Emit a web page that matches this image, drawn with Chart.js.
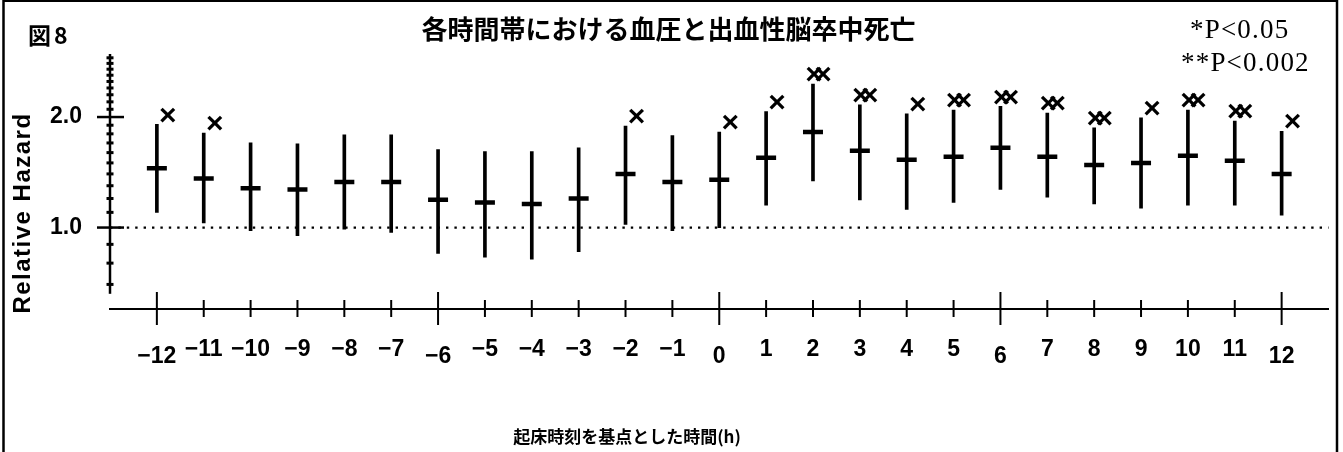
<!DOCTYPE html>
<html>
<head>
<meta charset="utf-8">
<script src="https://cdn.jsdelivr.net/npm/chart.js@4"></script>
<style>
  html, body { margin: 0; padding: 0; background: #fff; }
  #c { display: block; }
</style>
</head>
<body>
<canvas id="c" width="1343" height="452"></canvas>
<script>
// Hours relative to wake-up time
const hours = ['−12','−11','−10','−9','−8','−7','−6','−5','−4','−3','−2','−1',
               '0','1','2','3','4','5','6','7','8','9','10','11','12'];
const majorHours = ['−12','−6','0','6','12'];

// Relative hazard of haemorrhagic stroke death with 95% CI
const meanRH  = [1.45,1.36,1.28,1.27,1.33,1.33,1.19,1.17,1.16,1.20,1.40,1.33,
                 1.35,1.55,1.82,1.62,1.53,1.56,1.65,1.56,1.48,1.50,1.57,1.52,1.40];
const lowerCI = [1.10,1.03,0.98,0.95,0.99,0.97,0.85,0.83,0.82,0.86,1.02,0.98,
                 1.00,1.15,1.34,1.19,1.12,1.17,1.27,1.21,1.16,1.13,1.15,1.15,1.08];
const upperCI = [1.91,1.81,1.70,1.69,1.79,1.79,1.63,1.61,1.61,1.65,1.89,1.78,
                 1.82,2.07,2.46,2.16,2.04,2.09,2.14,2.05,1.87,1.99,2.09,1.95,1.83];
const signif  = ['*','*','','','','','','','','','*','',
                 '*','*','**','**','*','**','**','**','**','*','**','**','*'];

// Y axis: labelled ticks, minor ticks, visible axis extent
const yTickValues = [1, 2];
const yMinorTicks = [0.7,0.8,0.9,1.1,1.2,1.3,1.4,1.5,1.6,1.7,1.8,1.9,
                     2.1,2.2,2.3,2.4,2.5,2.6,2.7,2.8,2.9];
const yMin = 0.604, yMax = 2.97, yAxisFloor = 0.66;
const refLevel = 1.0;

// Blank slots at both ends give a one-step margin on each side
const labels = [''].concat(hours, ['']);
const pad = arr => [null].concat(arr, [null]);

const ciData = pad(lowerCI.map((lo, i) => [lo, upperCI[i]]));
const meanData = pad(meanRH);
const refData = labels.map(() => refLevel);

const decor = {
  id: 'decor',
  beforeDraw(chart) {
    const ctx = chart.ctx;
    ctx.save();
    ctx.fillStyle = '#fff';
    ctx.fillRect(0, 0, chart.width, chart.height);
    ctx.restore();
  },
  afterDraw(chart) {
    const { ctx, chartArea: a, scales: { x, y } } = chart;
    const seg = (x1, y1, x2, y2) => { ctx.beginPath(); ctx.moveTo(x1, y1); ctx.lineTo(x2, y2); ctx.stroke(); };
    ctx.save();
    ctx.strokeStyle = '#000';
    ctx.fillStyle = '#000';
    ctx.lineCap = 'butt';

    // Y axis line with crossing tick marks
    ctx.lineWidth = 2.5;
    seg(a.left, y.getPixelForValue(yAxisFloor), a.left, a.top);
    ctx.lineWidth = 3;
    yMinorTicks.forEach(v => { const py = y.getPixelForValue(v); seg(a.left - 3.5, py, a.left + 3.5, py); });
    ctx.lineWidth = 2.5;
    yTickValues.forEach(v => { const py = y.getPixelForValue(v); seg(a.left - 13, py, a.left + 14, py); });

    // X axis crossing tick marks and labels
    ctx.font = 'bold 23px "Liberation Sans", Arial, sans-serif';
    ctx.textAlign = 'center';
    ctx.textBaseline = 'middle';
    hours.forEach((h, i) => {
      const px = x.getPixelForValue(i + 1);
      const major = majorHours.includes(h);
      ctx.lineWidth = 2;
      seg(px, a.bottom - (major ? 17 : 9), px, a.bottom + (major ? 16 : 8));
      ctx.fillText(h, px, a.bottom + (major ? 48 : 41));
    });

    // Significance marks above the upper confidence limit
    ctx.font = 'bold 30px "Liberation Sans", Arial, sans-serif';
    signif.forEach((s, i) => {
      if (!s) return;
      const px = x.getPixelForValue(i + 1);
      const py = y.getPixelForValue(upperCI[i]) - 8;
      if (s === '*') {
        ctx.fillText('×', px + 11, py);
      } else {
        ctx.fillText('×', px + 1, py);
        ctx.fillText('×', px + 10, py);
      }
    });

    // Figure number
    ctx.textAlign = 'left';
    ctx.font = 'bold 23px "Noto Sans CJK JP", sans-serif';
    ctx.letterSpacing = '3px';
    ctx.fillText('図8', 28, 35);

    // Significance legend
    ctx.font = '27px "Liberation Serif", "Times New Roman", serif';
    ctx.letterSpacing = '1.2px';
    ctx.fillText('*P<0.05', 1190, 31);
    ctx.fillText('**P<0.002', 1181, 64);

    // Axis titles
    ctx.letterSpacing = '1.5px';
    ctx.font = 'bold 24px "Liberation Sans", Arial, sans-serif';
    ctx.save();
    ctx.translate(23, 213);
    ctx.rotate(-Math.PI / 2);
    ctx.textAlign = 'center';
    ctx.fillText('Relative Hazard', 0, 0);
    ctx.restore();

    ctx.letterSpacing = '0px';
    ctx.textAlign = 'center';
    ctx.font = 'bold 17px "Noto Sans CJK JP", sans-serif';
    ctx.fillText('起床時刻を基点とした時間(h)', 627, 437);

    // Figure frame
    ctx.lineWidth = 2.5;
    seg(3.5, 0, 3.5, chart.height);
    seg(1337, 0, 1337, chart.height);
    ctx.lineWidth = 2;
    seg(3.5, 1, 1337, 1);
    ctx.restore();
  }
};

new Chart(document.getElementById('c'), {
  type: 'bar',
  data: {
    labels,
    datasets: [
      {
        type: 'bar',
        data: ciData,
        backgroundColor: '#000',
        borderWidth: 0,
        barThickness: 3,
        order: 2
      },
      {
        type: 'line',
        data: meanData,
        showLine: false,
        pointStyle: 'line',
        pointRadius: 10,
        pointBorderWidth: 4.5,
        pointBorderColor: '#000',
        pointBackgroundColor: '#000',
        order: 1
      },
      {
        type: 'line',
        data: refData,
        borderColor: '#000',
        borderWidth: 2.2,
        borderDash: [2.4, 6],
        pointRadius: 0,
        order: 3
      }
    ]
  },
  options: {
    responsive: false,
    animation: false,
    events: [],
    layout: { padding: { left: 0, right: 6, top: 0, bottom: 0 } },
    plugins: {
      legend: { display: false },
      tooltip: { enabled: false },
      title: {
        display: true,
        text: '各時間帯における血圧と出血性脳卒中死亡',
        color: '#000',
        font: { family: '"Noto Sans CJK JP", sans-serif', size: 26, weight: 'bold', lineHeight: 1 },
        padding: { top: 16, bottom: 12 }
      }
    },
    scales: {
      x: {
        type: 'category',
        offset: false,
        grid: { display: false },
        border: { display: true, color: '#000', width: 2 },
        ticks: { display: false },
        afterFit(scale) { scale.height = 143; }
      },
      y: {
        type: 'logarithmic',
        min: yMin,
        max: yMax,
        grid: { display: false, drawTicks: false },
        border: { display: false },
        afterBuildTicks(scale) { scale.ticks = yTickValues.map(v => ({ value: v })); },
        ticks: {
          padding: 28,
          color: '#000',
          font: { family: '"Liberation Sans", Arial, sans-serif', size: 23, weight: 'bold' },
          callback: v => Number(v).toFixed(1)
        },
        afterFit(scale) { scale.width = 110; }
      }
    }
  },
  plugins: [decor]
});
</script>
</body>
</html>
